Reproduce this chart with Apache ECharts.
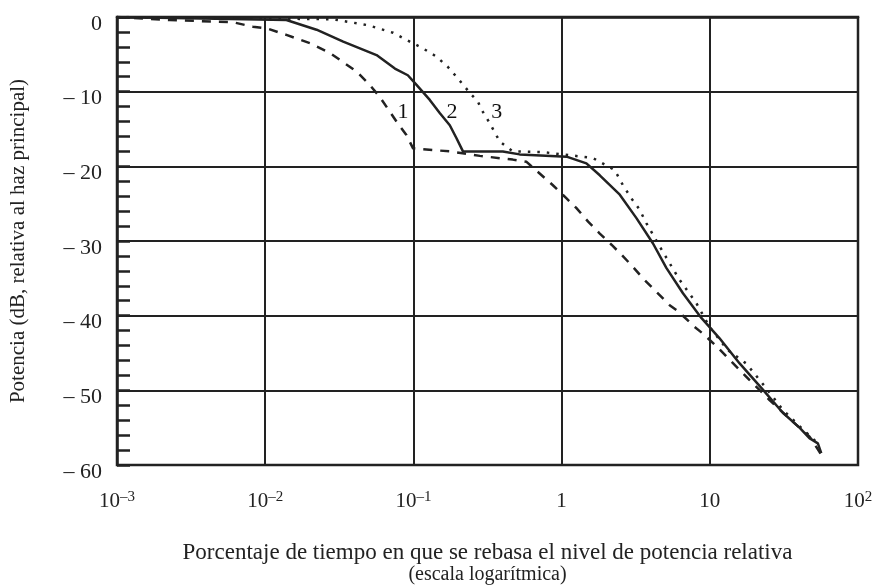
<!DOCTYPE html>
<html>
<head>
<meta charset="utf-8">
<script src="https://cdn.jsdelivr.net/npm/echarts@6/dist/echarts.min.js"></script>
<style>
  html, body { margin: 0; padding: 0; background: #fff; }
  #chart { width: 877px; height: 585px; }
</style>
</head>
<body>
<div id="chart"></div>
<script>
// Curve 1 (dashed): [percent of time, dB]
const curve1 = [
  [0.001, 0], [0.00227, -0.4], [0.00605, -0.7], [0.00826, -1.3], [0.0102, -1.5],
  [0.0139, -2.4], [0.02, -3.5], [0.0273, -4.8], [0.0413, -7.3], [0.0508, -9.1],
  [0.0593, -10.7], [0.0769, -14.0], [0.0897, -15.8], [0.0995, -17.6], [0.176, -18.0],
  [0.281, -18.6], [0.468, -19.1], [0.58, -19.4], [0.87, -22.5], [1.08, -24.3],
  [1.26, -25.6], [1.51, -27.4], [1.81, -29.0], [2.17, -30.5], [2.47, -31.6],
  [3.01, -33.4], [3.54, -35.0], [4.36, -36.8], [5.36, -38.6], [6.1, -39.4],
  [7.9, -41.5], [8.98, -42.4], [11.1, -44.1], [13.6, -45.9], [18.5, -48.6],
  [25.3, -51.3], [34.5, -53.8], [47.1, -56.2], [56.5, -58.6]
];
// Curve 2 (solid)
const curve2 = [
  [0.001, 0], [0.0139, -0.4], [0.0222, -1.7], [0.0336, -3.3], [0.0564, -5.1],
  [0.075, -6.9], [0.0917, -7.8], [0.105, -9.1], [0.129, -11.1], [0.151, -12.9],
  [0.176, -14.5], [0.195, -16.2], [0.216, -18.0], [0.401, -18.0], [0.521, -18.4],
  [1.08, -18.7], [1.47, -19.6], [1.81, -21.2], [2.47, -23.8], [3.19, -26.9],
  [4.13, -30.3], [5.09, -33.6], [6.59, -37.0], [8.77, -40.3], [11.6, -43.0],
  [15.9, -46.4], [22.8, -49.9], [31.1, -53.0], [40.3, -55.0], [47.0, -56.4],
  [53.6, -57.1], [56.5, -58.4]
];
// Curve 3 (dotted)
const curve3 = [
  [0.001, 0], [0.0287, -0.3], [0.0493, -1.1], [0.0727, -2.1], [0.0946, -3.3],
  [0.116, -4.2], [0.143, -5.3], [0.171, -6.7], [0.199, -8.2], [0.246, -10.4],
  [0.272, -11.3], [0.288, -12.4], [0.327, -14.2], [0.383, -16.7], [0.468, -18.0],
  [0.746, -18.1], [1.13, -18.5], [1.63, -18.9], [2.28, -20.5], [2.59, -22.5],
  [2.96, -24.3], [3.36, -25.8], [3.73, -27.6], [4.58, -30.7], [6.25, -35.2],
  [8.1, -38.3], [9.96, -41.5], [13.2, -44.6], [17.6, -46.4], [24.0, -49.7],
  [31.1, -52.6], [40.3, -54.8], [53.6, -57.1]
];
// Curve labels
const curveLabels = [
  { name: '1', value: [0.085, -12.7] },
  { name: '2', value: [0.182, -12.7] },
  { name: '3', value: [0.365, -12.7] }
];
const xTitleLine1 = 'Porcentaje de tiempo en que se rebasa el nivel de potencia relativa';
const xTitleLine2 = '(escala logarítmica)';
const yTitle = 'Potencia (dB, relativa al haz principal)';

const ink = '#222';
const serif = '"Liberation Serif", "DejaVu Serif", serif';

const chart = echarts.init(document.getElementById('chart'), null, { renderer: 'canvas' });

function xLabel(v) {
  const e = Math.round(Math.log10(v));
  if (e === 0) return '{b|1}';
  if (e === 1) return '{b|10}';
  const s = e < 0 ? '–' + Math.abs(e) : String(e);
  return '{b|10}{s|' + s + '}';
}

chart.setOption({
  animation: false,
  backgroundColor: '#fff',
  grid: {
    left: 117, right: 19, top: 17, bottom: 120,
    outerBoundsMode: 'none',
    containLabel: false,
    show: true, borderColor: ink, borderWidth: 2.5, backgroundColor: 'transparent'
  },
  xAxis: {
    type: 'log',
    logBase: 10,
    min: 0.001,
    max: 100,
    name: '{a|' + xTitleLine1 + '}\n{c|' + xTitleLine2 + '}',
    nameLocation: 'middle',
    nameGap: 76,
    nameTextStyle: {
      color: ink,
      rich: {
        a: { fontFamily: serif, fontSize: 23, color: ink, lineHeight: 24 },
        c: { fontFamily: serif, fontSize: 20, color: ink, lineHeight: 20 }
      }
    },
    axisLine: { show: true, lineStyle: { color: ink, width: 2.5 } },
    axisTick: { show: false },
    minorTick: { show: false },
    splitLine: { show: true, lineStyle: { color: ink, width: 2 } },
    axisLabel: {
      margin: 25,
      formatter: xLabel,
      rich: {
        b: { fontFamily: serif, fontSize: 21, color: ink, verticalAlign: 'bottom', lineHeight: 22 },
        s: { fontFamily: serif, fontSize: 15, color: ink, verticalAlign: 'top', lineHeight: 22, padding: [0, 0, 10, 0] }
      }
    }
  },
  yAxis: {
    type: 'value',
    min: -60,
    max: 0,
    interval: 10,
    name: yTitle,
    nameLocation: 'middle',
    nameRotate: 90,
    nameGap: 88,
    nameTextStyle: { fontFamily: serif, fontSize: 21, color: ink },
    axisLine: { show: true, lineStyle: { color: ink, width: 2.5 } },
    axisTick: { show: true, inside: true, length: 13, lineStyle: { color: ink, width: 2.5 } },
    minorTick: { show: true, splitNumber: 5, length: 13, lineStyle: { color: ink, width: 2.5 } },
    splitLine: { show: true, lineStyle: { color: ink, width: 2 } },
    axisLabel: {
      margin: 15,
      fontFamily: serif,
      fontSize: 22,
      color: ink,
      verticalAlign: 'top',
      lineHeight: 14,
      formatter: function (v) { return v === 0 ? '0' : '– ' + Math.abs(v); }
    }
  },
  series: [
    {
      name: '1', type: 'line', data: curve1, symbol: 'none', smooth: false,
      lineStyle: { color: ink, width: 2.5, type: [9, 8] }, z: 3
    },
    {
      name: '2', type: 'line', data: curve2, symbol: 'none', smooth: false,
      lineStyle: { color: ink, width: 2.5 }, z: 3
    },
    {
      name: '3', type: 'line', data: curve3, symbol: 'none', smooth: false,
      lineStyle: { color: ink, width: 2.5, type: [2.5, 7] }, z: 3
    },
    {
      type: 'scatter', data: curveLabels, symbolSize: 1,
      itemStyle: { color: 'rgba(0,0,0,0)' },
      label: {
        show: true, position: 'inside', formatter: '{b}',
        fontFamily: serif, fontSize: 22, color: '#111',
        textBorderWidth: 0, opacity: 1
      },
      emphasis: { disabled: true },
      z: 4
    }
  ]
});
</script>
</body>
</html>
